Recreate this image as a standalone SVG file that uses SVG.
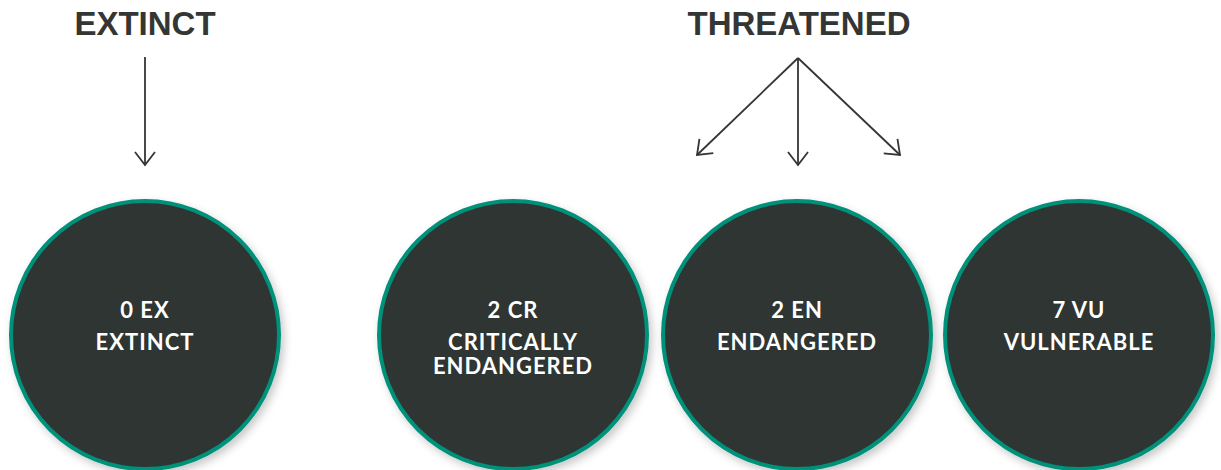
<svg xmlns="http://www.w3.org/2000/svg" width="1221" height="470" viewBox="0 0 1221 470">
<style>
.hdr{font-family:"Liberation Sans",Arial,sans-serif;font-weight:700;font-size:33px;fill:#333634;text-anchor:middle}
.lbl{font-family:Lato,"Open Sans",sans-serif;font-weight:700;font-size:22px;letter-spacing:1px;fill:#ffffff;text-anchor:middle}
.ring{fill:#2f3430;stroke:#00917a;stroke-width:4;filter:url(#sh)}
.conn{stroke:#333634;stroke-width:1.8;fill:none;marker-end:url(#arr)}
</style>
<defs>
<filter id="sh" x="-20%" y="-20%" width="140%" height="140%">
<feDropShadow dx="3" dy="4" stdDeviation="4" flood-color="#000" flood-opacity="0.22"/>
</filter>
<marker id="arr" markerUnits="userSpaceOnUse" viewBox="-16 -12 18 24" markerWidth="18" markerHeight="24" refX="0" refY="0" orient="auto">
<path d="M-13,-10 L0,0 L-13,10" fill="none" stroke="#333634" stroke-width="1.8"/>
</marker>
</defs>
<text class="hdr" x="145" y="35">EXTINCT</text>
<text class="hdr" x="799" y="35">THREATENED</text>
<g id="connectors">
<line class="conn" x1="145" y1="57" x2="145" y2="165"/>
<line class="conn" x1="798" y1="58" x2="697" y2="155"/>
<line class="conn" x1="798" y1="58" x2="798" y2="165"/>
<line class="conn" x1="798" y1="58" x2="900" y2="155"/>
</g>
<g id="ex">
<circle class="ring" cx="145" cy="335" r="134"/>
<text class="lbl" x="145" y="318">0 EX</text>
<text class="lbl" x="145" y="350">EXTINCT</text>
</g>
<g id="cr">
<circle class="ring" cx="513" cy="335" r="134"/>
<text class="lbl" x="513" y="318">2 CR</text>
<text class="lbl" x="513" y="350">CRITICALLY</text>
<text class="lbl" x="513" y="374">ENDANGERED</text>
</g>
<g id="en">
<circle class="ring" cx="797" cy="335" r="134"/>
<text class="lbl" x="797" y="318">2 EN</text>
<text class="lbl" x="797" y="350">ENDANGERED</text>
</g>
<g id="vu">
<circle class="ring" cx="1079" cy="335" r="134"/>
<text class="lbl" x="1079" y="318">7 VU</text>
<text class="lbl" x="1079" y="350">VULNERABLE</text>
</g>
</svg>
